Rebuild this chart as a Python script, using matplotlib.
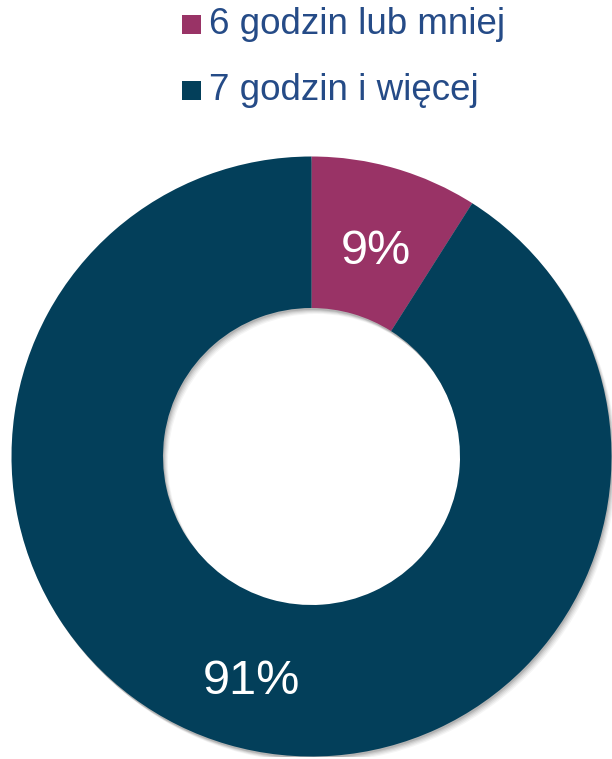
import matplotlib
matplotlib.use("Agg")
import matplotlib.pyplot as plt
from matplotlib.patches import Wedge, Rectangle
from matplotlib.transforms import offset_copy

categories = ["6 godzin lub mniej", "7 godzin i więcej"]
values = [9, 91]
colors = ["#993366", "#033F5A"]
text_color = "#254B87"

plt.rcParams['font.family'] = ['Liberation Sans', 'DejaVu Sans']

W, H = 612, 759
fig = plt.figure(figsize=(W / 100, H / 100), dpi=100)

# donut axes
ax = fig.add_axes([11.5 / W, 2.5 / H, 600 / W, 600 / H])
ax.set_xlim(-1, 1)
ax.set_ylim(-1, 1)
ax.set_aspect('equal')
ax.axis('off')

# soft shadow beneath ring
for dx, dy, a in [(5, -6, 0.04), (4, -5, 0.05), (3, -4, 0.06), (2, -3, 0.08), (1, -2, 0.10)]:
    tr = offset_copy(ax.transData, fig=fig, x=dx, y=dy, units='dots')
    ax.add_patch(Wedge((0, 0), 1.0, 0, 360, width=0.505, facecolor='black',
                       alpha=a, edgecolor='none', transform=tr, zorder=0))

wedges, texts, autotexts = ax.pie(
    values, colors=colors, startangle=90, counterclock=False,
    radius=1.0, wedgeprops=dict(width=0.505, edgecolor='none'),
    autopct=lambda p: f"{p:.0f}%", pctdistance=0.745,
    textprops=dict(color='white', fontsize=35))
for w in wedges:
    w.set_zorder(2)
for t in autotexts:
    t.set_zorder(3)
    t.set_transform(offset_copy(ax.transData, fig=fig, x=2, y=-10, units='dots'))
ax.set_xlim(-1, 1)
ax.set_ylim(-1, 1)

# legend
sq = 19
rows_baseline = [34, 100]
for lab, col, yb in zip(categories, colors, rows_baseline):
    fig.patches.append(Rectangle((182 / W, (H - yb) / H), sq / W, sq / H,
                                 transform=fig.transFigure, facecolor=col,
                                 edgecolor='none'))
    fig.text(209 / W, (H - yb) / H, lab, color=text_color, fontsize=26.5,
             ha='left', va='baseline')

fig.savefig("out.png", dpi=100)
